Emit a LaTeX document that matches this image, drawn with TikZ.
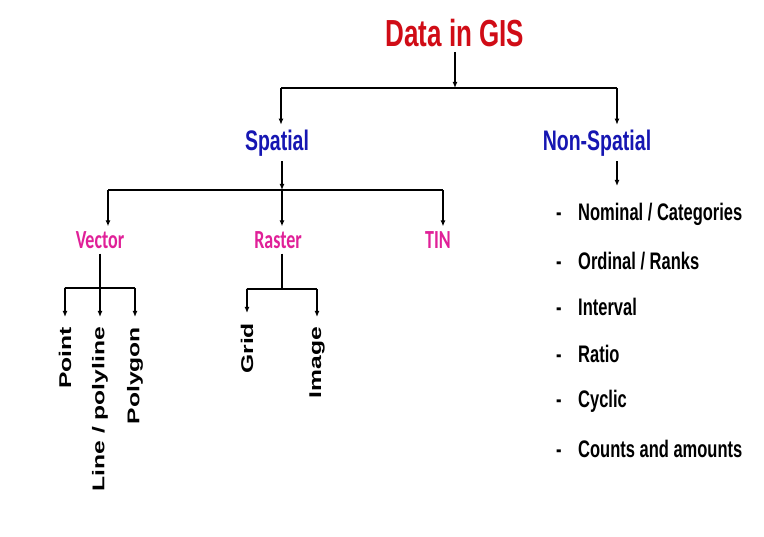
\documentclass[tikz,border=0pt]{standalone}
\usepackage{fontspec}
\setmainfont{Liberation Sans}
\newfontfamily\carlito{Carlito}
\usetikzlibrary{
  arrows.meta
}
\definecolor{gisred}{RGB}{208,12,22}
\definecolor{gisblue}{RGB}{22,22,178}
\definecolor{gismagenta}{RGB}{224,32,152}
\tikzset{
  % The slide was squeezed, so all text is stretched upwards.
  squash/.style={
    yscale=1.45},
%
  % For the heading.
  heading/.style={
    squash,
    text=gisred,
    font=\fontsize{26}{30}\selectfont\bfseries},
%
  % For the two main kinds of data.
  kind/.style={
    squash,
    text=gisblue,
    font=\fontsize{19.5}{22}\selectfont\bfseries},
%
  % For spatial data models.
  model/.style={
    squash,
    text=gismagenta,
    font=\carlito\fontsize{18}{20}\selectfont\bfseries},
%
  % For rotated leaves, read from bottom to top.
  leaf/.style={
    squash,
    rotate=90,
    anchor=east,
    inner sep=0pt,
    outer sep=0pt,
    font=\fontsize{17}{20}\selectfont\bfseries},
%
  % For list entries.
  entry/.style={
    squash,
    anchor=west,
    inner sep=0pt,
    font=\fontsize{16.5}{19}\selectfont\bfseries},
%
  % For plain connector lines.
  line/.style={
    line width=1.8pt},
%
  % For connectors with one arrow.
  tip/.style={
    line,
    -{Latex[length=6pt,width=5pt]}},
%
  % For arrows pointing at leaves.
  leaf tip/.style={
    tip,
    shorten >=10pt}
}

\begin{document}
\begin{tikzpicture}[x=1pt,y=-1pt]
  \useasboundingbox (0,0) rectangle (764,537);

  \node[heading] (gis) at (455,33) {Data in GIS};

  \node[kind] (spatial) at (277,143) {Spatial};
  \node[kind] (nonspatial) at (597,143) {Non-Spatial};

  \coordinate (top left) at (281,88);
  \coordinate (top mid) at (455,88);
  \coordinate (top right) at (617,88);
  \draw[tip] (gis) -- (top mid);
  \draw[line] (top left) -- (top right);
  \draw[tip] (top left) -- (top left |- spatial.north);
  \draw[tip] (top right) -- (top right |- nonspatial.north);

  \node[model] (vector) at (100,240) {Vector};
  \node[model] (raster) at (278,240) {Raster};
  \node[model] (tin) at (438,240) {TIN};

  \coordinate (mid left) at (108,190);
  \coordinate (mid mid) at (282,190);
  \coordinate (mid right) at (443,190);
  \draw[tip] (spatial.south -| mid mid) -- (mid mid);
  \draw[line] (mid left) -- (mid right);
  \draw[tip] (mid left) -- (mid left |- vector.north);
  \draw[tip] (mid mid) -- (mid mid |- raster.north);
  \draw[tip] (mid right) -- (mid right |- tin.north);

  % Vector models.
  \node[leaf] (point) at (65,327) {Point};
  \node[leaf] (polyline) at (100,327) {Line / polyline};
  \node[leaf] (polygon) at (135,327) {Polygon};

  \coordinate (vec left) at (65,288);
  \coordinate (vec mid) at (100,288);
  \coordinate (vec right) at (135,288);
  \draw[line] (vector) -- (vec mid);
  \draw[line] (vec left) -- (vec right);
  \draw[leaf tip] (vec left) -- (point);
  \draw[leaf tip] (vec mid) -- (polyline);
  \draw[leaf tip] (vec right) -- (polygon);

  % Raster models.
  \node[leaf] (grid) at (247,323) {Grid};
  \node[leaf] (image) at (317,327) {Image};

  \coordinate (ras left) at (247,289);
  \coordinate (ras mid) at (282,289);
  \coordinate (ras right) at (317,289);
  \draw[line] (raster.south -| ras mid) -- (ras mid);
  \draw[line] (ras left) -- (ras right);
  \draw[leaf tip] (ras left) -- (grid);
  \draw[leaf tip] (ras right) -- (image);

  % Non-spatial kinds.
  \coordinate (list top) at (617,186);
  \draw[tip] (nonspatial.south -| list top) -- (list top);

  \node[entry] (nominal) at (556,214) {-\quad Nominal / Categories};
  \node[entry] (ordinal) at (556,261) {-\quad Ordinal / Ranks};
  \node[entry] (interval) at (556,307) {-\quad Interval};
  \node[entry] (ratio) at (556,354) {-\quad Ratio};
  \node[entry] (cyclic) at (556,401) {-\quad Cyclic};
  \node[entry] (counts) at (556,449) {-\quad Counts and amounts};
\end{tikzpicture}
\end{document}
